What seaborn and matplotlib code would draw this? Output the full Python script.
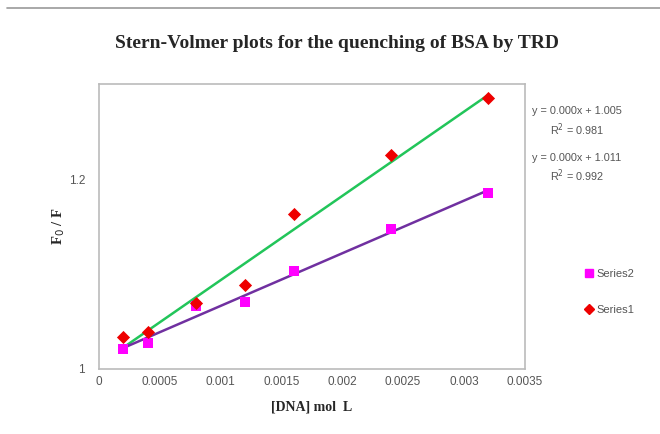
import numpy as np
import pandas as pd
import seaborn as sns
import matplotlib.pyplot as plt
from matplotlib.lines import Line2D

# data
dna = [0.0002, 0.0004, 0.0008, 0.0012, 0.0016, 0.0024, 0.0032]
series1 = [1.034, 1.039, 1.069, 1.088, 1.163, 1.225, 1.285]
series2 = [1.021, 1.027, 1.066, 1.071, 1.103, 1.147, 1.185]
xticks = [0, 0.0005, 0.001, 0.0015, 0.002, 0.0025, 0.003, 0.0035]
xticklabels = ["0", "0.0005", "0.001", "0.0015", "0.002", "0.0025", "0.003", "0.0035"]
yticks = [1, 1.2]
eq1 = "y = 0.000x + 1.005\nR$^2$ = 0.981"
eq2 = "y = 0.000x + 1.011\nR$^2$ = 0.992"

df = pd.DataFrame({"dna": dna, "s1": series1, "s2": series2})

sns.set_style("white")
plt.rcParams['font.family'] = ['Liberation Sans', 'DejaVu Sans']

fig = plt.figure(figsize=(6.6, 4.34), dpi=100)
ax = fig.add_axes([0.15, 0.150, 0.645, 0.656])

# trendlines
sns.regplot(data=df, x="dna", y="s1", ci=None, scatter=False, ax=ax,
            line_kws=dict(color="#22c55a", lw=1.8))
sns.regplot(data=df, x="dna", y="s2", ci=None, scatter=False, ax=ax,
            line_kws=dict(color="#7030a0", lw=1.8))

# points
sns.scatterplot(data=df, x="dna", y="s2", marker="s", color="#ff00ff", s=45,
                edgecolor="#ff00ff", linewidth=0, ax=ax, zorder=3)
sns.scatterplot(data=df, x="dna", y="s1", marker="D", color="#ee0000", s=45,
                edgecolor="#ee0000", linewidth=0, ax=ax, zorder=3)

ax.set_xlim(0, 0.0035)
ax.set_ylim(1, 1.3)
ax.set_xticks(xticks)
ax.set_xticklabels(xticklabels)
ax.set_yticks(yticks)
ax.set_yticklabels(["1", "1.2"])
ax.tick_params(axis="both", length=0, labelsize=8.5, labelcolor="#555555")
ax.tick_params(axis="x", pad=5)
ax.tick_params(axis="y", pad=10)
for s in ax.spines.values():
    s.set_color("#bbbbbb")
    s.set_linewidth(1.2)

ax.set_xlabel("[DNA] mol  L", fontsize=10, fontweight="bold",
              family="Liberation Serif", labelpad=9)
ax.set_ylabel("F$_0$ / F", fontsize=10.5, fontweight="bold",
              family="Liberation Serif", labelpad=1)

fig.suptitle("Stern-Volmer plots for the quenching of BSA by TRD", x=0.51, y=0.92,
             fontsize=14, fontweight="bold", family="Liberation Serif")

# equation labels
fig.text(0.874, 0.719, eq1, ha="center", va="center", fontsize=7.8,
         color="#555555", linespacing=1.35)
fig.text(0.874, 0.611, eq2, ha="center", va="center", fontsize=7.8,
         color="#555555", linespacing=1.35)

# legend
handles = [
    Line2D([], [], marker="s", color="#ff00ff", ls="none", markersize=6),
    Line2D([], [], marker="D", color="#ee0000", ls="none", markersize=5),
]
fig.legend(handles, ["Series2", "Series1"], loc="center left",
           bbox_to_anchor=(0.87, 0.327), frameon=False, fontsize=8,
           labelcolor="#555555", handlelength=0.8, handletextpad=0.3,
           labelspacing=2.3)

# thin line at top of chart area
fig.add_artist(Line2D([0.01, 1.0], [0.982, 0.982], color="#999999", lw=1.2,
                      transform=fig.transFigure))

fig.savefig("out.png", dpi=100)
